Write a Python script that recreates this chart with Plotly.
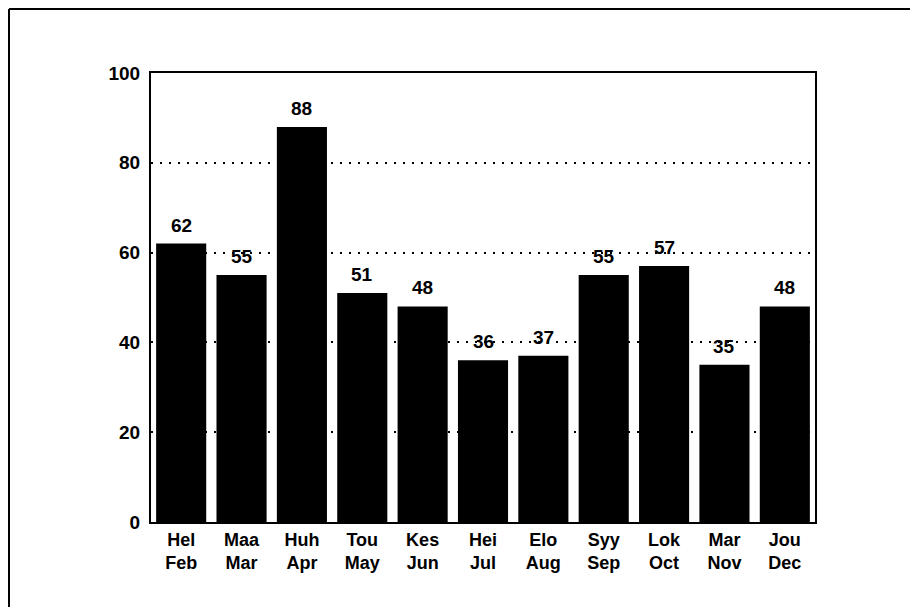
import plotly.graph_objects as go

fin_months = ["Hel", "Maa", "Huh", "Tou", "Kes", "Hei", "Elo", "Syy", "Lok", "Mar", "Jou"]
eng_months = ["Feb", "Mar", "Apr", "May", "Jun", "Jul", "Aug", "Sep", "Oct", "Nov", "Dec"]
values = [62, 55, 88, 51, 48, 36, 37, 55, 57, 35, 48]
y_ticks = [0, 20, 40, 60, 80, 100]

cats = [f"{a}<br>{b}" for a, b in zip(fin_months, eng_months)]

# page body has an 8px margin, so figure coords are shifted by 8px
OFF = 8
W, H = 918, 607
L, R, T, B = 151 - OFF, 103 + OFF, 73 - OFF, 85 + OFF
pw, ph = W - L - R, H - T - B

FONT = "Liberation Sans, Arial, sans-serif"
WEIGHT = "bold"

fig = go.Figure()
fig.add_trace(go.Bar(
    x=cats, y=values,
    marker=dict(color="black", line=dict(width=0)),
    hoverinfo="skip",
))

for c, v in zip(cats, values):
    fig.add_annotation(x=c, y=v, text=str(v), showarrow=False,
                       yanchor="bottom", yshift=6,
                       font=dict(family=FONT, size=19, color="black", weight=WEIGHT))

def px_x(p):
    return (p - L) / pw

def px_y(p):
    return (H - B - p) / ph

# outer frame (left and top edges), placed as close to the page edge as possible
fig.add_shape(type="line", xref="paper", yref="paper",
              x0=px_x(1), x1=px_x(1), y0=px_y(1), y1=px_y(H),
              line=dict(color="black", width=2))
fig.add_shape(type="line", xref="paper", yref="paper",
              x0=px_x(1), x1=px_x(W), y0=px_y(1), y1=px_y(1),
              line=dict(color="black", width=2))

fig.update_layout(
    width=W, height=H,
    margin=dict(l=L, r=R, t=T, b=B),
    paper_bgcolor="white", plot_bgcolor="white",
    bargap=0.17,
    showlegend=False,
    font=dict(family=FONT, size=18, color="black", weight=WEIGHT),
)
fig.update_xaxes(
    showline=True, linecolor="black", linewidth=2, mirror=True,
    showgrid=False, ticks="",
    tickfont=dict(family=FONT, size=18, color="black", weight=WEIGHT),
    ticklabelstandoff=0,
)
fig.update_yaxes(
    range=[0, 100], tickvals=y_ticks,
    showline=True, linecolor="black", linewidth=2, mirror=True,
    showgrid=True, gridcolor="black", gridwidth=2, griddash="2px,7px",
    zeroline=False, ticks="", ticklabelstandoff=5,
    tickfont=dict(family=FONT, size=19, color="black", weight=WEIGHT),
)

fig.write_html("out.html")
